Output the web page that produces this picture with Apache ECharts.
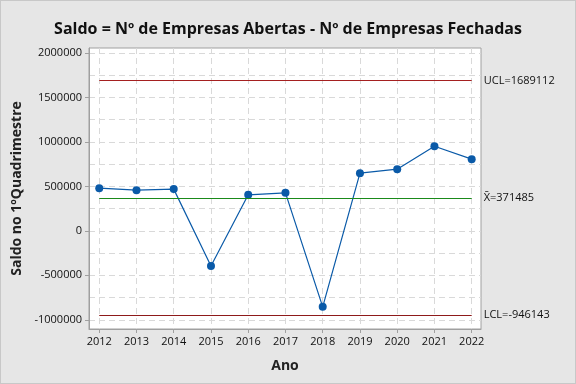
<!DOCTYPE html>
<html><head><meta charset="utf-8">
<script src="https://cdn.jsdelivr.net/npm/echarts@6/dist/echarts.min.js"></script>
<style>html,body{margin:0;padding:0;background:#e6e6e6}#c{width:574px;height:382px;border:1px solid #c8c8c8}</style>
</head><body><div id="c"></div>
<script>
const years = [2012,2013,2014,2015,2016,2017,2018,2019,2020,2021,2022];
const saldo = [480000,457000,469000,-395000,405000,427000,-855000,648000,693000,951000,806000];
const UCL = 1689112, MEAN = 371485, LCL = -946143;
const limitLabels = ['UCL=1689112', 'X\u0304=371485', 'LCL=-946143'];
const yTickLabels = [-1000000,-500000,0,500000,1000000,1500000,2000000];
const yGridValues = [-1000000,-750000,-500000,-250000,0,250000,500000,750000,1000000,1250000,1500000,1750000,2000000];

const font = '"Open Sans", "Noto Sans", sans-serif';
const chart = echarts.init(document.getElementById('c'));
function lim(v, label, color){
  return [{coord:[years[0], v], lineStyle:{color:color, width:1.2, type:'solid'}},
          {coord:[years[years.length-1], v], label:{show:true, position:'end', distance:12, formatter:label, color:'#111', fontSize:11, fontFamily:font}}];
}
chart.setOption({
  animation:false,
  backgroundColor:'#e6e6e6',
  title:{text:'Saldo = Nº de Empresas Abertas - Nº de Empresas Fechadas', left:'center', top:15,
    textStyle:{fontSize:16, fontWeight:'bold', color:'#111', fontFamily:font}},
  grid:{left:88, right:94, top:47, bottom:54, show:true, backgroundColor:'#fff', borderColor:'#a0a0a0', borderWidth:1},
  xAxis:{type:'value', min:2011.725, max:2022.25, name:'Ano', nameLocation:'middle', nameGap:30,
    nameTextStyle:{fontSize:14, fontWeight:'bold', color:'#222', fontFamily:font},
    axisLine:{show:true, onZero:false, lineStyle:{color:'#a0a0a0'}},
    axisTick:{show:true, length:4, lineStyle:{color:'#a0a0a0'}, customValues:years},
    axisLabel:{customValues:years, color:'#111', fontSize:11, fontFamily:font, margin:7, formatter:v=>String(v)},
    splitLine:{show:true, lineStyle:{color:'#d9d9d9', type:[6,4]}}},
  yAxis:[
    {type:'value', min:-1104000, max:2056000, position:'left',
     axisLine:{show:false}, axisTick:{show:false, customValues:yGridValues},
     axisLabel:{show:false, customValues:yGridValues},
     splitLine:{show:true, lineStyle:{color:'#d9d9d9', type:[6,4]}}},
    {type:'value', min:-1104000, max:2056000, position:'left',
     name:'Saldo no 1ºQuadrimestre', nameLocation:'middle', nameGap:57,
     nameTextStyle:{fontSize:14, fontWeight:'bold', color:'#222', fontFamily:font},
     axisLine:{show:true, onZero:false, lineStyle:{color:'#a0a0a0'}},
     axisTick:{show:true, length:4, lineStyle:{color:'#a0a0a0'}, customValues:yTickLabels},
     axisLabel:{customValues:yTickLabels, color:'#111', fontSize:11, fontFamily:font, margin:7, formatter:v=>String(v)},
     splitLine:{show:false}}
  ],
  series:[{
    type:'line', yAxisIndex:1, data:years.map((y,i)=>[y, saldo[i]]),
    symbol:'circle', symbolSize:8, itemStyle:{color:'#0a5aa8'}, lineStyle:{color:'#0a5aa8', width:1.2},
    markLine:{symbol:'none', silent:true, animation:false,
      data:[lim(UCL, limitLabels[0], '#a52020'), lim(MEAN, limitLabels[1], '#1a8a1a'), lim(LCL, limitLabels[2], '#8e1a1a')]}
  }]
});
</script></body></html>
